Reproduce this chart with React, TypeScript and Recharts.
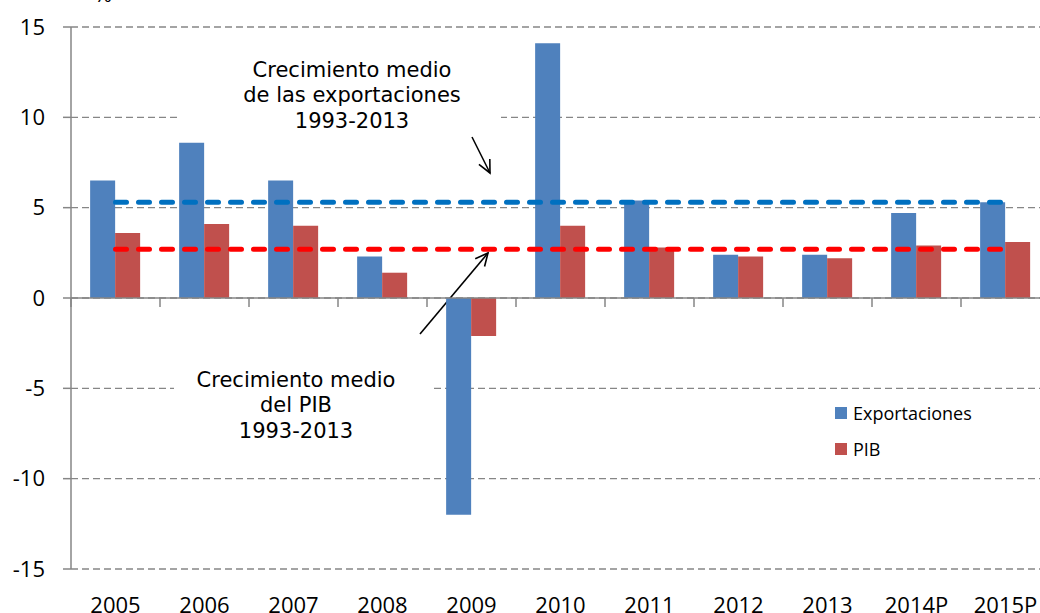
import { BarChart, Bar, XAxis, YAxis, CartesianGrid, ReferenceLine, Legend, Customized } from "recharts"

const categories = ["2005", "2006", "2007", "2008", "2009", "2010", "2011", "2012", "2013", "2014P", "2015P"]
const exportaciones = [6.5, 8.6, 6.5, 2.3, -12.0, 14.1, 5.4, 2.4, 2.4, 4.7, 5.3]
const pib = [3.6, 4.1, 4.0, 1.4, -2.1, 4.0, 2.8, 2.3, 2.2, 2.9, 3.1]
const yTicks = [-15, -10, -5, 0, 5, 10, 15]
const promedioExport = 5.3
const promedioPib = 2.7

const data = categories.map((year, i) => ({ year, exportaciones: exportaciones[i], pib: pib[i] }))

const AXIS = "#868686"
const TICK_FONT = { fill: "#000", fontSize: 22, fontFamily: "'Open Sans', sans-serif" }

function Arrow({ x1, y1, x2, y2 }: { x1: number; y1: number; x2: number; y2: number }) {
  const a = Math.atan2(y2 - y1, x2 - x1)
  const len = 14
  const spread = 0.45
  const p1 = [x2 - len * Math.cos(a - spread), y2 - len * Math.sin(a - spread)]
  const p2 = [x2 - len * Math.cos(a + spread), y2 - len * Math.sin(a + spread)]
  return (
    <g stroke="#000" strokeWidth={1.6} fill="none">
      <line x1={x1} y1={y1} x2={x2} y2={y2} />
      <polyline points={`${p1[0]},${p1[1]} ${x2},${y2} ${p2[0]},${p2[1]}`} />
    </g>
  )
}

function Annotations() {
  const font = { fontFamily: "'DejaVu Sans', Verdana, sans-serif", fontSize: 21, fill: "#000" }
  return (
    <g>
      <text x={103} y={2} textAnchor="middle" style={TICK_FONT}>%</text>
      <rect x={177} y={48} width={324} height={90} fill="#fff" />
      <text x={352} y={77} textAnchor="middle" style={font}>Crecimiento medio</text>
      <text x={352} y={102} textAnchor="middle" style={font}>de las exportaciones</text>
      <text x={352} y={128} textAnchor="middle" style={font}>1993-2013</text>
      <Arrow x1={472} y1={137} x2={490} y2={173} />
      <rect x={174} y={355} width={259} height={92} fill="#fff" />
      <text x={296} y={387} textAnchor="middle" style={font}>Crecimiento medio</text>
      <text x={296} y={412} textAnchor="middle" style={font}>del PIB</text>
      <text x={296} y={438} textAnchor="middle" style={font}>1993-2013</text>
      <Arrow x1={420} y1={334} x2={488} y2={253} />
    </g>
  )
}

function LegendBox({ payload }: any) {
  return (
    <div style={{ fontFamily: "'Open Sans', sans-serif", fontSize: 18, color: "#000" }}>
      {(payload || []).map((entry: any) => (
        <div key={entry.value} style={{ display: "flex", alignItems: "center", height: 36 }}>
          <span style={{ width: 12, height: 12, background: entry.color, marginRight: 6, display: "inline-block" }} />
          <span>{entry.value}</span>
        </div>
      ))}
    </div>
  )
}

export default function App() {
  return (
    <div style={{ position: "absolute", left: 0, top: 0, width: 1040, height: 613, overflow: "hidden", background: "#fff" }}>
      <BarChart
        width={1060}
        height={613}
        data={data}
        margin={{ top: 27, right: 10, left: 0, bottom: 0 }}
        barCategoryGap="21.5%"
        barGap={0}
      >
        <CartesianGrid vertical={false} stroke={AXIS} strokeWidth={1.4} strokeDasharray="7 4" />
        <Customized component={Annotations} />
        <XAxis
          dataKey="year"
          height={44}
          axisLine={false}
          tickLine={false}
          tickSize={0}
          tickMargin={28}
          interval={0}
          tick={TICK_FONT}
        />
        <YAxis
          width={71}
          domain={[-15, 15]}
          ticks={yTicks}
          interval={0}
          axisLine={{ stroke: AXIS, strokeWidth: 1.5 }}
          tickLine={{ stroke: AXIS, strokeWidth: 1.5 }}
          tickSize={8}
          tickMargin={18}
          tick={TICK_FONT}
        />
        <ReferenceLine y={0} stroke={AXIS} strokeWidth={1.5} />
        {categories.map((c) => (
          <ReferenceLine
            key={`t-${c}`}
            segment={[{ x: c, y: 0 }, { x: c, y: -0.5 }]}
            position="start"
            stroke={AXIS}
            strokeWidth={1.5}
          />
        ))}
        <Bar dataKey="exportaciones" name="Exportaciones" fill="#4F81BD" isAnimationActive={false} />
        <Bar dataKey="pib" name="PIB" fill="#C0504D" isAnimationActive={false} />
        <ReferenceLine
          segment={[{ x: categories[0], y: promedioExport }, { x: categories[categories.length - 1], y: promedioExport }]}
          stroke="#0070C0"
          strokeWidth={5}
          strokeDasharray="11 12"
          strokeLinecap="round"
        />
        <ReferenceLine
          segment={[{ x: categories[0], y: promedioPib }, { x: categories[categories.length - 1], y: promedioPib }]}
          stroke="#FF0000"
          strokeWidth={5}
          strokeDasharray="11 12"
          strokeLinecap="round"
        />
        <Legend
          layout="vertical"
          align="center"
          verticalAlign="middle"
          content={<LegendBox />}
          wrapperStyle={{ left: 835, top: 395, width: "auto", height: "auto" }}
        />
      </BarChart>
    </div>
  )
}
